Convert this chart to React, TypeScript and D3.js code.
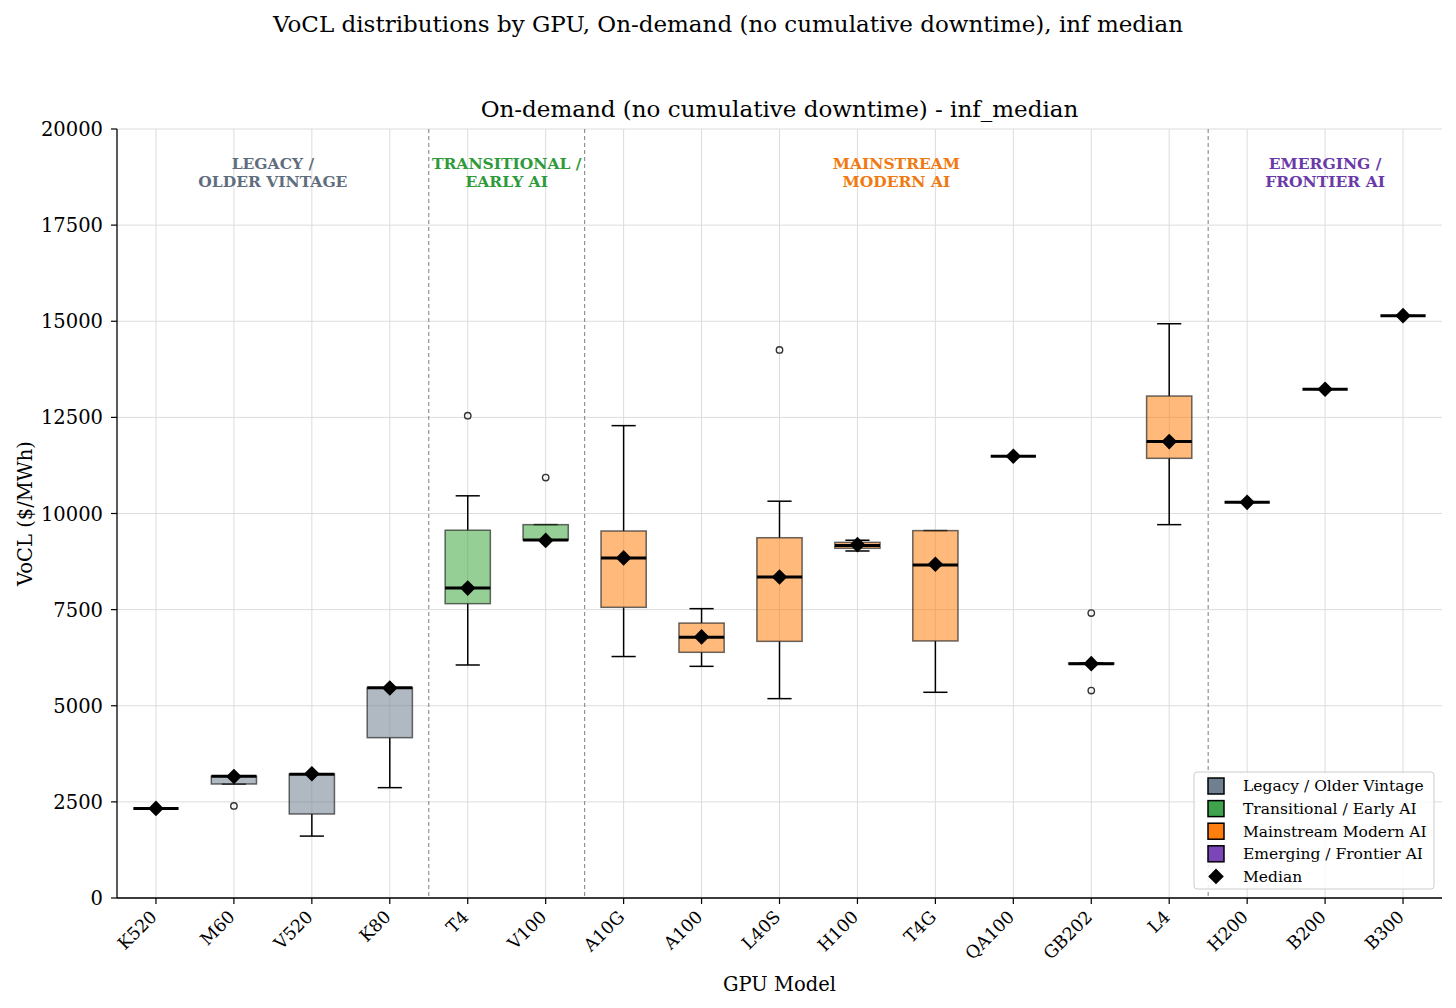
import React from "react";
import * as d3 from "d3";

const gpus = ["K520","M60","V520","K80","T4","V100","A10G","A100","L40S","H100","T4G","QA100","GB202","L4","H200","B200","B300"];
const groupOf = [0,0,0,0,1,1,2,2,2,2,2,2,2,2,3,3,3];
const whiskerLow = [2325,2965,1610,2870,6060,9310,6280,6025,5185,9025,5350,11490,6080,9710,10290,13230,15145];
const q1 = [2325,2965,2185,4170,7655,9310,7560,6390,6675,9095,6685,11490,6085,11435,10290,13230,15145];
const medians = [2325,3165,3220,5465,8060,9310,8845,6780,8350,9165,8660,11490,6095,11870,10290,13230,15145];
const q3 = [2325,3165,3220,5465,9565,9710,9545,7150,9370,9250,9555,11490,6110,13055,10290,13230,15145];
const whiskerHigh = [2325,3165,3220,5465,10460,9710,12285,7525,10320,9305,9555,11490,6115,14935,10290,13230,15145];
const medianMarker = [2330,3160,3230,5460,8060,9300,8845,6790,8350,9190,8680,11490,6095,11870,10290,13230,15145];
const outliers: number[][] = [[],[2395],[],[],[12545],[10935],[],[],[14255],[],[],[],[7410,5395],[],[],[],[]];

const groupNames = ["Legacy / Older Vintage","Transitional / Early AI","Mainstream Modern AI","Emerging / Frontier AI"];
const groupTitles = [["LEGACY /","OLDER VINTAGE"],["TRANSITIONAL /","EARLY AI"],["MAINSTREAM","MODERN AI"],["EMERGING /","FRONTIER AI"]];
const groupColors = ["#708090","#2ca02c","#ff7f0e","#7b46b8"];
const groupAlpha = [0.55,0.5,0.55,0.55];
const groupTextColors = ["#5f6e7e","#2e9a3a","#f07a12","#6a3aa8"];
const groupLegendColors = ["#708090","#3fa34d","#ff7f0e","#7b46b8"];
const yTicks = [0,2500,5000,7500,10000,12500,15000,17500,20000];

const W = 1456, H = 1008;
const L = 117, R = 1442, T = 129, B = 898;
const FONT = "'DejaVu Serif', serif";

export default function App() {
  const x = d3.scaleLinear().domain([0.5, gpus.length + 0.5]).range([L, R]);
  const y = d3.scaleLinear().domain([0, 20000]).range([B, T]);
  const step = x(2) - x(1);
  const boxW = 0.58 * step;
  const capW = 0.31 * step;

  const bounds: number[] = [];
  for (let i = 1; i < gpus.length; i++) if (groupOf[i] !== groupOf[i - 1]) bounds.push(i + 0.5);
  const groupCenters = groupNames.map((_, g) => {
    const idx = gpus.map((_, i) => i).filter((i) => groupOf[i] === g);
    return d3.mean(idx.map((i) => i + 1)) as number;
  });

  const diamond = (cx: number, cy: number, s: number) =>
    `M${cx},${cy - s}L${cx + s},${cy}L${cx},${cy + s}L${cx - s},${cy}Z`;

  return (
    <div style={{ position: "absolute", left: 0, top: 0 }}>
      <svg width={W} height={H} style={{ display: "block", background: "#fff" }} fontFamily={FONT}>
        <text x={728} y={32} textAnchor="middle" fontSize={23}>VoCL distributions by GPU, On-demand (no cumulative downtime), inf median</text>
        <text x={(L + R) / 2} y={117} textAnchor="middle" fontSize={23}>On-demand (no cumulative downtime) - inf_median</text>

        {yTicks.map((t) => (
          <line key={"gy" + t} x1={L} x2={R} y1={y(t)} y2={y(t)} stroke="#dcdcdc" strokeWidth={1} />
        ))}
        {gpus.map((g, i) => (
          <line key={"gx" + g} x1={x(i + 1)} x2={x(i + 1)} y1={T} y2={B} stroke="#dcdcdc" strokeWidth={1} />
        ))}

        {bounds.map((b) => (
          <line key={"b" + b} x1={x(b)} x2={x(b)} y1={T} y2={B} stroke="#8a8a8a" strokeWidth={1.1} strokeDasharray="4,3" />
        ))}

        {groupTitles.map((lines, g) => (
          <text key={"gt" + g} x={x(groupCenters[g])} y={168.5} textAnchor="middle" fontSize={15.5} fontWeight="bold" fill={groupTextColors[g]}>
            <tspan x={x(groupCenters[g])} dy={0}>{lines[0]}</tspan>
            <tspan x={x(groupCenters[g])} dy={18}>{lines[1]}</tspan>
          </text>
        ))}

        {gpus.map((g, i) => {
          const cx = x(i + 1);
          const col = groupColors[groupOf[i]];
          return (
            <g key={"box" + g}>
              <line x1={cx} x2={cx} y1={y(whiskerLow[i])} y2={y(q1[i])} stroke="#000" strokeWidth={1.5} />
              <line x1={cx} x2={cx} y1={y(q3[i])} y2={y(whiskerHigh[i])} stroke="#000" strokeWidth={1.5} />
              <line x1={cx - capW / 2} x2={cx + capW / 2} y1={y(whiskerLow[i])} y2={y(whiskerLow[i])} stroke="#000" strokeWidth={1.5} />
              <line x1={cx - capW / 2} x2={cx + capW / 2} y1={y(whiskerHigh[i])} y2={y(whiskerHigh[i])} stroke="#000" strokeWidth={1.5} />
              <rect x={cx - boxW / 2} y={y(q3[i])} width={boxW} height={Math.max(0, y(q1[i]) - y(q3[i]))}
                fill={col} fillOpacity={groupAlpha[groupOf[i]]} stroke="#2a2a2a" strokeOpacity={0.7} strokeWidth={1.5} />
              <line x1={cx - boxW / 2} x2={cx + boxW / 2} y1={y(medians[i])} y2={y(medians[i])} stroke="#000" strokeWidth={3} />
              {outliers[i].map((o, k) => (
                <circle key={k} cx={cx} cy={y(o)} r={3.2} fill="none" stroke="#333" strokeWidth={1.4} />
              ))}
              <path d={diamond(cx, y(medianMarker[i]), 7.8)} fill="#000" />
            </g>
          );
        })}

        <line x1={L} x2={L} y1={T} y2={B} stroke="#000" strokeWidth={1.3} />
        <line x1={L} x2={R} y1={B} y2={B} stroke="#000" strokeWidth={1.3} />
        {yTicks.map((t) => (
          <g key={"yt" + t}>
            <line x1={L - 6} x2={L} y1={y(t)} y2={y(t)} stroke="#000" strokeWidth={1.2} />
            <text x={L - 14} y={y(t)} dy="0.36em" textAnchor="end" fontSize={19.5}>{t}</text>
          </g>
        ))}
        {gpus.map((g, i) => (
          <g key={"xt" + g}>
            <line x1={x(i + 1)} x2={x(i + 1)} y1={B} y2={B + 6} stroke="#000" strokeWidth={1.2} />
            <text transform={`translate(${x(i + 1) + 2},${B + 20}) rotate(-45)`} textAnchor="end" fontSize={17.5}>{g}</text>
          </g>
        ))}
        <text x={(L + R) / 2} y={991} textAnchor="middle" fontSize={19.5}>GPU Model</text>
        <text transform={`translate(32,${(T + B) / 2}) rotate(-90)`} textAnchor="middle" fontSize={19.5}>VoCL ($/MWh)</text>

        <g>
          <rect x={1194} y={772} width={240} height={117} rx={3} fill="#fff" fillOpacity={0.85} stroke="#cccccc" strokeWidth={1} />
          {groupNames.map((n, g) => (
            <g key={"lg" + g}>
              <rect x={1208} y={786 + g * 22.6 - 8} width={16} height={16} fill={groupLegendColors[g]} stroke="#000" strokeWidth={1.5} />
              <text x={1243} y={786 + g * 22.6} dy="0.35em" fontSize={15.5}>{n}</text>
            </g>
          ))}
          <path d={diamond(1216, 786 + 4 * 22.6, 7.8)} fill="#000" />
          <text x={1243} y={786 + 4 * 22.6} dy="0.35em" fontSize={15.5}>Median</text>
        </g>
      </svg>
    </div>
  );
}
